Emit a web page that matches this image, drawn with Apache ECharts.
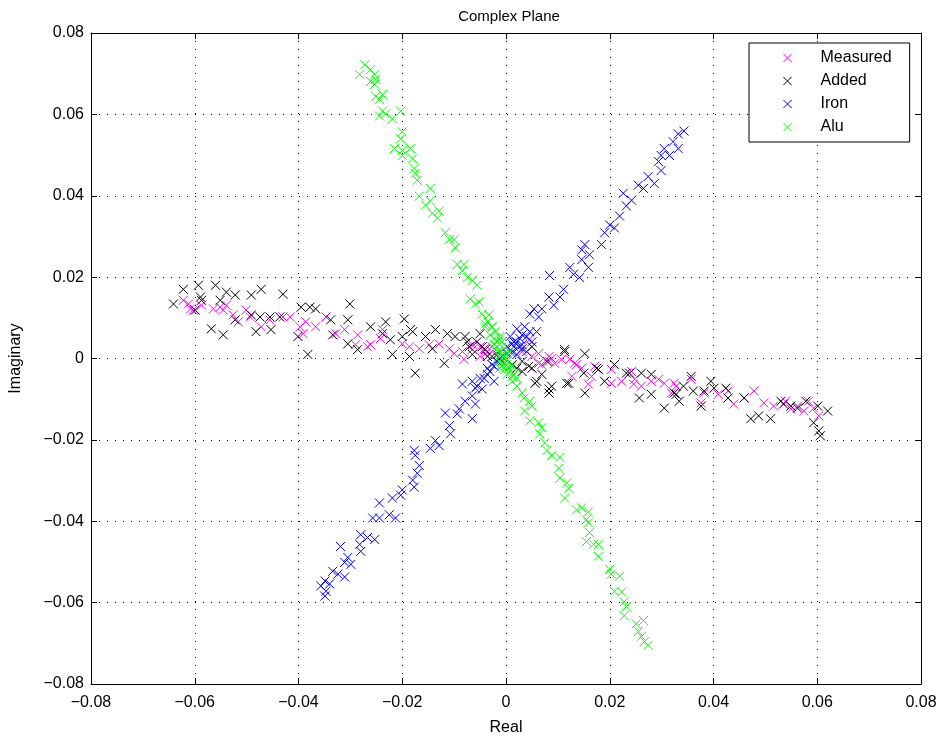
<!DOCTYPE html>
<html>
<head>
<meta charset="utf-8">
<script src="https://cdn.jsdelivr.net/npm/echarts@6/dist/echarts.min.js"></script>
<style>html,body{margin:0;padding:0;background:#fff}#c{width:942px;height:741px}</style>
</head>
<body>
<div id="c"></div>
<script>
const seriesNames = ['Measured', 'Added', 'Iron', 'Alu'];
const axisTicks = [-0.08, -0.06, -0.04, -0.02, 0, 0.02, 0.04, 0.06, 0.08];

const measured = [
[-0.0622,0.0143],[-0.0612,0.0134],[-0.0608,0.0122],[-0.0603,0.0119],[-0.0564,0.0122],[-0.0551,0.0126],
[-0.0539,0.0131],[-0.0545,0.0119],[-0.0501,0.0119],[-0.0493,0.0102],[-0.0516,0.0090],[-0.0472,0.0078],
[-0.0455,0.0095],[-0.0430,0.0102],[-0.0416,0.0102],[-0.0397,0.0078],[-0.0391,0.0061],[-0.0386,0.0090],
[-0.0367,0.0078],[-0.0347,0.0102],[-0.0328,0.0061],[-0.0311,0.0071],[-0.0286,0.0058],[-0.0290,0.0034],
[-0.0267,0.0029],[-0.0261,0.0034],[-0.0238,0.0071],[-0.0242,0.0049],[-0.0200,0.0036],[-0.0186,0.0029],
[-0.0167,0.0024],[-0.0148,0.0034],[-0.0129,0.0036],[-0.0109,0.0024],[-0.0100,0.0012],[-0.0081,-0.0002],
[-0.0065,0.0022],[-0.0050,0.0005],[-0.0042,0.0024],[-0.0040,0.0012],[0.0044,0.0046],[0.0063,0.0012],
[0.0083,0.0005],[0.0094,-0.0012],[0.0107,-0.0002],[0.0123,-0.0002],[0.0136,-0.0015],[0.0132,-0.0012],
[0.0127,-0.0044],[0.0159,-0.0063],[0.0171,-0.0019],[0.0203,-0.0061],[0.0223,-0.0056],[0.0242,-0.0032],
[0.0246,-0.0063],[0.0261,-0.0068],[0.0280,-0.0056],[0.0294,-0.0051],[0.0305,-0.0061],[0.0319,-0.0085],
[0.0328,-0.0068],[0.0357,-0.0051],[0.0376,-0.0109],[0.0382,-0.0085],[0.0409,-0.0088],[0.0428,-0.0080],
[0.0439,-0.0112],[0.0459,-0.0097],[0.0478,-0.0080],[0.0497,-0.0109],[0.0516,-0.0117],[0.0549,-0.0124],
[0.0562,-0.0117],[0.0574,-0.0129],[0.0593,-0.0122],[0.0603,-0.0141],[0.0063,-0.0012],[0.0083,-0.0007],
[0.0146,-0.0024],[0.0165,-0.0044],[0.0203,-0.0027],[0.0248,-0.0051],[0.0324,-0.0061],[-0.0008,0.0005],
[0.0012,0.0012],[-0.0027,0.0017],[0.0583,-0.0105],[0.0539,-0.0105],[-0.0587,0.0131],[-0.0526,0.0107],
[-0.0065,0.0034],[-0.0050,0.0029],[-0.0027,0.0029],[0.0031,0.0017],[0.0050,0.0005],[0.0069,-0.0015],
[0.0088,0.0000],[-0.0084,0.0017]
];

const added = [
[-0.0641,0.0134],[-0.0622,0.0170],[-0.0593,0.0180],[-0.0589,0.0151],[-0.0587,0.0143],[-0.0599,0.0119],
[-0.0560,0.0180],[-0.0539,0.0163],[-0.0522,0.0156],[-0.0551,0.0143],[-0.0568,0.0073],[-0.0545,0.0058],
[-0.0522,0.0095],[-0.0491,0.0156],[-0.0472,0.0170],[-0.0491,0.0107],[-0.0474,0.0102],[-0.0482,0.0066],
[-0.0453,0.0071],[-0.0455,0.0102],[-0.0436,0.0102],[-0.0430,0.0158],[-0.0395,0.0126],[-0.0378,0.0126],
[-0.0367,0.0122],[-0.0401,0.0054],[-0.0382,0.0010],[-0.0338,0.0095],[-0.0334,0.0058],[-0.0301,0.0134],
[-0.0305,0.0095],[-0.0305,0.0036],[-0.0286,0.0022],[-0.0261,0.0078],[-0.0232,0.0090],[-0.0238,0.0061],
[-0.0223,0.0046],[-0.0219,0.0010],[-0.0196,0.0097],[-0.0200,0.0054],[-0.0184,0.0071],[-0.0186,0.0005],
[-0.0175,-0.0036],[-0.0155,0.0054],[-0.0136,0.0071],[-0.0142,0.0024],[-0.0119,-0.0012],[-0.0113,0.0061],
[-0.0098,0.0054],[-0.0079,0.0054],[-0.0071,0.0029],[-0.0046,0.0029],[-0.0180,0.0066],[-0.0050,0.0061],
[-0.0040,0.0022],[-0.0027,0.0005],[0.0050,0.0029],[0.0083,-0.0085],[0.0113,0.0022],[0.0044,-0.0019],
[0.0056,-0.0061],[0.0083,-0.0075],[0.0121,-0.0061],[0.0152,-0.0085],[0.0178,-0.0027],[0.0190,-0.0056],
[0.0209,-0.0015],[0.0232,-0.0036],[0.0257,-0.0097],[0.0280,-0.0088],[0.0305,-0.0122],[0.0324,-0.0085],
[0.0113,0.0017],[0.0152,0.0012],[0.0117,-0.0061],[0.0150,-0.0036],[0.0175,-0.0024],[0.0238,-0.0036],
[0.0261,-0.0036],[0.0280,-0.0039],[0.0328,-0.0088],[0.0334,-0.0105],[0.0342,-0.0068],[0.0357,-0.0044],
[0.0361,-0.0080],[0.0382,-0.0080],[0.0376,-0.0117],[0.0395,-0.0056],[0.0401,-0.0073],[0.0424,-0.0073],
[0.0428,-0.0097],[0.0459,-0.0097],[0.0472,-0.0148],[0.0487,-0.0141],[0.0510,-0.0148],[0.0530,-0.0105],
[0.0535,-0.0112],[0.0578,-0.0105],[0.0601,-0.0117],[0.0620,-0.0129],[0.0593,-0.0158],[0.0603,-0.0178],
[0.0606,-0.0190],[-0.0008,-0.0007],[0.0021,-0.0024],[0.0031,-0.0032],[0.0562,-0.0122],[0.0549,-0.0117],
[-0.0075,0.0041],[-0.0065,0.0010],[-0.0056,0.0041],[-0.0036,0.0005],[-0.0017,0.0010],[0.0031,-0.0007],
[0.0050,-0.0024],[0.0069,-0.0039],[0.0079,-0.0007],[0.0059,-0.0056],[0.0088,-0.0068],[0.0012,-0.0015]
];

const iron = [
[0.0343,0.0559],[0.0332,0.0552],[0.0322,0.0533],[0.0332,0.0516],[0.0305,0.0516],[0.0299,0.0499],
[0.0294,0.0484],[0.0315,0.0499],[0.0299,0.0462],[0.0274,0.0447],[0.0286,0.0430],[0.0255,0.0426],
[0.0265,0.0418],[0.0226,0.0406],[0.0242,0.0389],[0.0232,0.0375],[0.0219,0.0350],[0.0200,0.0328],
[0.0209,0.0321],[0.0190,0.0309],[0.0184,0.0280],[0.0152,0.0280],[0.0146,0.0267],[0.0161,0.0255],
[0.0146,0.0243],[0.0159,0.0224],[0.0123,0.0224],[0.0130,0.0207],[0.0142,0.0199],[0.0084,0.0204],
[0.0111,0.0170],[0.0104,0.0151],[0.0083,0.0151],[0.0092,0.0131],[0.0069,0.0122],[0.0054,0.0122],
[0.0063,0.0102],[0.0046,0.0109],[0.0036,0.0078],[0.0021,0.0073],[0.0046,0.0066],[0.0027,0.0049],
[0.0012,0.0036],[0.0025,0.0029],[0.0002,0.0029],[0.0012,0.0017],[0.0021,0.0010],[-0.0008,0.0005],
[-0.0017,-0.0007],[-0.0027,-0.0015],[-0.0036,-0.0024],[0.0031,0.0034],[0.0040,0.0054],[0.0015,0.0041],
[-0.0084,-0.0063],[-0.0042,-0.0049],[-0.0023,-0.0056],[-0.0059,-0.0073],[-0.0046,-0.0075],[-0.0065,-0.0092],
[-0.0079,-0.0105],[-0.0059,-0.0112],[-0.0090,-0.0124],[-0.0117,-0.0134],[-0.0094,-0.0136],[-0.0065,-0.0148],
[-0.0109,-0.0165],[-0.0107,-0.0185],[-0.0136,-0.0202],[-0.0129,-0.0214],[-0.0146,-0.0221],[-0.0177,-0.0226],
[-0.0175,-0.0238],[-0.0167,-0.0263],[-0.0171,-0.0282],[-0.0180,-0.0299],[-0.0177,-0.0316],[-0.0200,-0.0323],
[-0.0203,-0.0336],[-0.0219,-0.0343],[-0.0244,-0.0355],[-0.0225,-0.0384],[-0.0213,-0.0392],[-0.0257,-0.0392],
[-0.0244,-0.0392],[-0.0280,-0.0433],[-0.0267,-0.0440],[-0.0253,-0.0445],[-0.0282,-0.0457],[-0.0280,-0.0474],
[-0.0319,-0.0462],[-0.0305,-0.0489],[-0.0299,-0.0506],[-0.0311,-0.0501],[-0.0334,-0.0523],[-0.0324,-0.0530],
[-0.0311,-0.0537],[-0.0349,-0.0547],[-0.0340,-0.0554],[-0.0357,-0.0559],[-0.0347,-0.0572],[-0.0349,-0.0584],
[0.0008,0.0054],[0.0021,0.0041],[0.0031,0.0024],[0.0040,0.0017],[0.0015,0.0029],[0.0050,0.0041],
[0.0002,0.0012],[-0.0012,0.0000],[-0.0023,-0.0019],[-0.0036,-0.0039],[-0.0050,-0.0049],[-0.0056,-0.0068],
[-0.0031,-0.0032],[-0.0065,-0.0056],[0.0059,0.0066],[0.0031,0.0058]
];

const alu = [
[-0.0272,0.0722],[-0.0282,0.0698],[-0.0261,0.0710],[-0.0253,0.0698],[-0.0261,0.0681],[-0.0251,0.0686],
[-0.0253,0.0674],[-0.0251,0.0644],[-0.0238,0.0649],[-0.0244,0.0637],[-0.0238,0.0608],[-0.0232,0.0601],
[-0.0244,0.0596],[-0.0219,0.0589],[-0.0203,0.0608],[-0.0200,0.0557],[-0.0203,0.0540],[-0.0215,0.0516],
[-0.0200,0.0511],[-0.0184,0.0516],[-0.0200,0.0499],[-0.0180,0.0491],[-0.0177,0.0467],[-0.0175,0.0455],
[-0.0171,0.0438],[-0.0146,0.0418],[-0.0167,0.0399],[-0.0146,0.0387],[-0.0155,0.0377],[-0.0142,0.0357],
[-0.0129,0.0362],[-0.0132,0.0345],[-0.0117,0.0309],[-0.0100,0.0292],[-0.0109,0.0292],[-0.0098,0.0272],
[-0.0094,0.0231],[-0.0081,0.0231],[-0.0084,0.0216],[-0.0075,0.0199],[-0.0065,0.0192],[-0.0056,0.0180],
[-0.0069,0.0146],[-0.0052,0.0139],[-0.0059,0.0134],[-0.0046,0.0109],[-0.0033,0.0107],[-0.0040,0.0085],
[-0.0027,0.0078],[-0.0021,0.0066],[-0.0013,0.0054],[-0.0023,0.0036],[-0.0008,0.0029],[-0.0002,0.0012],
[-0.0013,0.0005],[-0.0040,0.0078],[-0.0017,0.0041],[-0.0004,0.0005],[0.0002,-0.0007],[-0.0008,-0.0015],
[0.0006,-0.0024],[-0.0012,-0.0024],[0.0012,-0.0056],[-0.0002,-0.0027],[0.0012,-0.0044],[0.0021,-0.0068],
[0.0031,-0.0085],[0.0035,-0.0097],[0.0046,-0.0105],[0.0050,-0.0117],[0.0036,-0.0129],[0.0046,-0.0153],
[0.0063,-0.0158],[0.0069,-0.0170],[0.0065,-0.0185],[0.0075,-0.0207],[0.0079,-0.0226],[0.0088,-0.0238],
[0.0104,-0.0243],[0.0102,-0.0270],[0.0104,-0.0294],[0.0117,-0.0306],[0.0121,-0.0319],[0.0113,-0.0343],
[0.0136,-0.0372],[0.0146,-0.0367],[0.0159,-0.0377],[0.0155,-0.0396],[0.0159,-0.0404],[0.0161,-0.0428],
[0.0155,-0.0450],[0.0169,-0.0457],[0.0178,-0.0457],[0.0178,-0.0486],[0.0200,-0.0518],[0.0203,-0.0530],
[0.0219,-0.0535],[0.0209,-0.0572],[0.0223,-0.0574],[0.0228,-0.0598],[0.0232,-0.0610],[0.0228,-0.0632],
[0.0251,-0.0652],[0.0265,-0.0644],[0.0255,-0.0671],[0.0261,-0.0683],[0.0267,-0.0696],[0.0274,-0.0705],
[-0.0031,0.0058],[-0.0023,0.0049],[-0.0017,0.0029],[-0.0012,0.0017],[-0.0008,0.0010],[-0.0002,0.0000],
[0.0002,-0.0015],[0.0008,-0.0032],[-0.0013,-0.0007],[-0.0004,-0.0024],[0.0002,-0.0039],[0.0012,-0.0019],
[-0.0021,0.0024],[-0.0008,0.0041],[0.0006,0.0017],[0.0015,-0.0039],[0.0021,-0.0049],[-0.0027,0.0078],
[-0.0035,0.0090],[-0.0008,0.0054]
];

const seriesData = [measured, added, iron, alu];
const seriesColors = ['#ff00ff', '#000000', '#0000ff', '#00ff00'];

const FONT = 'Liberation Sans, Arial, Helvetica, sans-serif';
const XPATH = 'path://M0,0L10,10M0,10L10,0';

function fmt(v) {
  const t = axisTicks.find(a => Math.abs(a - v) < 1e-9);
  const val = t === undefined ? v : t;
  if (Math.abs(val) < 1e-9) return '0';
  return (val < 0 ? '\u2212' : '') + Math.abs(val).toFixed(2);
}

const baseAxis = {
  min: axisTicks[0], max: axisTicks[axisTicks.length - 1], interval: 0.02,
  axisLine: { show: true, onZero: false, lineStyle: { color: '#000', width: 1 } },
  axisTick: { show: true, inside: true, length: 6, lineStyle: { color: '#000' } },
  splitLine: { show: false }
};

const chart = echarts.init(document.getElementById('c'), null, { renderer: 'canvas' });
chart.setOption({
  animation: false,
  backgroundColor: '#fff',
  title: {
    text: 'Complex Plane', left: 504, top: 4, textAlign: 'center',
    textStyle: { fontFamily: FONT, fontSize: 15, fontWeight: 'normal', color: '#000' }
  },
  grid: { left: 87, right: 21, top: 33, bottom: 50, containLabel: false },
  legend: {
    orient: 'vertical', left: 749, top: 43,
    data: seriesNames.map((n, i) => ({
      name: n,
      itemStyle: { color: 'rgba(0,0,0,0)', borderColor: seriesColors[i], borderWidth: 1 }
    })),
    itemWidth: 8, itemHeight: 8, itemGap: 7,
    padding: [7, 18, 7, 34],
    backgroundColor: '#fff', borderColor: '#000', borderWidth: 1,
    textStyle: { fontFamily: FONT, fontSize: 16, color: '#000', padding: [0, 0, 0, 24] }
  },
  xAxis: [
    Object.assign({}, baseAxis, {
      type: 'value', position: 'bottom',
      name: 'Real', nameLocation: 'middle', nameGap: 36,
      nameTextStyle: { fontFamily: FONT, fontSize: 16, color: '#000' },
      axisLabel: { formatter: fmt, fontFamily: FONT, fontSize: 16, color: '#000', margin: 11 },
      splitLine: { show: true, lineStyle: { color: '#000', type: [1, 7], width: 1 } }
    }),
    Object.assign({}, baseAxis, { type: 'value', position: 'top', axisLabel: { show: false } })
  ],
  yAxis: [
    Object.assign({}, baseAxis, {
      type: 'value', position: 'left',
      name: 'Imaginary', nameLocation: 'middle', nameGap: 67, nameRotate: 90,
      nameTextStyle: { fontFamily: FONT, fontSize: 16, color: '#000' },
      axisLabel: { formatter: fmt, fontFamily: FONT, fontSize: 16, color: '#000', margin: 7 },
      splitLine: { show: true, lineStyle: { color: '#000', type: [1, 7], width: 1 } }
    }),
    Object.assign({}, baseAxis, { type: 'value', position: 'right', axisLabel: { show: false } })
  ],
  series: seriesNames.map((n, i) => ({
    name: n, type: 'scatter', data: seriesData[i],
    xAxisIndex: 0, yAxisIndex: 0,
    symbol: XPATH, symbolSize: 9,
    itemStyle: { color: 'rgba(0,0,0,0)', borderColor: seriesColors[i], borderWidth: 1, opacity: 1 },
    emphasis: { disabled: true },
    z: 2 + i
  }))
});
</script>
</body>
</html>
